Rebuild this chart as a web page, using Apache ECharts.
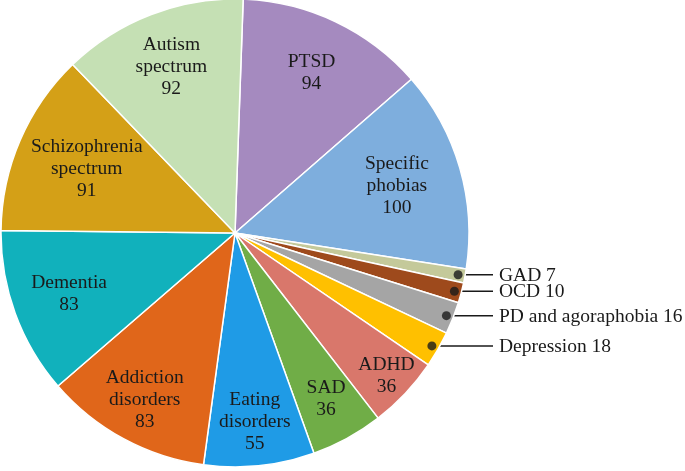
<!DOCTYPE html>
<html>
<head>
<meta charset="utf-8">
<script src="https://cdn.jsdelivr.net/npm/echarts@6/dist/echarts.min.js"></script>
<style>html,body{margin:0;padding:0;background:#fff}#c{width:685px;height:471px}</style>
</head>
<body>
<div id="c"></div>
<script>
// ---- data ----
const categories = ['PTSD','Specific phobias','GAD','OCD','PD and agoraphobia','Depression','ADHD','SAD','Eating disorders','Addiction disorders','Dementia','Schizophrenia spectrum','Autism spectrum'];
const values = [94,100,7,10,16,18,36,36,55,83,83,91,92];
const labelNames = ['PTSD','Specific\nphobias','GAD','OCD','PD and agoraphobia','Depression','ADHD','SAD','Eating\ndisorders','Addiction\ndisorders','Dementia','Schizophrenia\nspectrum','Autism\nspectrum'];
const colors = ['#a58abf','#7eaedd','#c4c99a','#9e4a1c','#a5a5a5','#ffc000','#d9776b','#70ad47','#1f9be6','#e0661a','#11b1bc','#d4a017','#c5e0b4'];
const outsideLabels = ['GAD','OCD','PD and agoraphobia','Depression'];

// ---- layout ----
const CX = 235, CY = 233, R = 234, START = 88;
const labelRadius = {'PTSD':0.76,'Specific phobias':0.72,'ADHD':0.89,'SAD':0.81,'Eating disorders':0.81,'Addiction disorders':0.81,'Dementia':0.755,'Schizophrenia spectrum':0.69,'Autism spectrum':0.76};
const DOT_R = 0.97, LINE_END_X = 493, TEXT_X = 499;
const FONT = '"Liberation Serif","Times New Roman",serif';
const TXT = '#1a1a1a';

const total = values.reduce((a,b)=>a+b,0);
const cumMid = [];
let acc = 0;
values.forEach(v => { cumMid.push(acc + v/2); acc += v; });
const midAngle = cumMid.map(c => (START - c/total*360) * Math.PI/180);

const pieData = categories.map((name,i) => {
  const outside = outsideLabels.includes(name);
  const item = {name, value: values[i], itemStyle:{color: colors[i]}};
  if (outside) {
    item.label = {position:'outside'};
    item.labelLine = {show:true, length:5, length2:10, lineStyle:{color:TXT, width:1.5}};
  }
  return item;
});

const dotData = categories.map((name,i) => outsideLabels.includes(name) ? [DOT_R, cumMid[i]] : null).filter(d => d);

const chart = echarts.init(document.getElementById('c'), null, {renderer:'canvas'});
chart.setOption({
  animation: false,
  backgroundColor: '#fff',
  polar: {center:[CX,CY], radius:R},
  angleAxis: {type:'value', min:0, max:total, startAngle:START, clockwise:true, show:false},
  radiusAxis: {type:'value', min:0, max:1, show:false},
  series: [
    {
      type: 'pie',
      center: [CX, CY],
      radius: R,
      startAngle: START,
      clockwise: true,
      avoidLabelOverlap: false,
      emphasis: {disabled: true},
      itemStyle: {borderColor:'#fff', borderWidth:1.5},
      label: {
        show: true,
        position: 'inside',
        fontFamily: FONT,
        fontSize: 19.5,
        lineHeight: 22,
        color: TXT,
        formatter: p => outsideLabels.includes(p.name) ? p.name + ' ' + p.value : labelNames[p.dataIndex] + '\n' + p.value
      },
      labelLine: {show:false},
      labelLayout: function (params) {
        const i = params.dataIndex;
        const name = categories[i];
        const a = midAngle[i];
        if (outsideLabels.includes(name)) {
          const dx = CX + DOT_R*R*Math.cos(a), dy = CY - DOT_R*R*Math.sin(a);
          return {x: TEXT_X, y: dy + 1, align:'left', verticalAlign:'middle',
                  labelLinePoints: [[dx,dy],[dx+4,dy],[LINE_END_X,dy]]};
        }
        const r = labelRadius[name]*R;
        return {x: CX + r*Math.cos(a), y: CY - r*Math.sin(a), align:'center', verticalAlign:'middle'};
      },
      data: pieData,
      z: 2
    },
    {
      type: 'scatter',
      coordinateSystem: 'polar',
      data: dotData,
      symbol: 'circle',
      symbolSize: 9,
      itemStyle: {color: TXT},
      silent: true,
      z: 6
    }
  ]
});
</script>
</body>
</html>
